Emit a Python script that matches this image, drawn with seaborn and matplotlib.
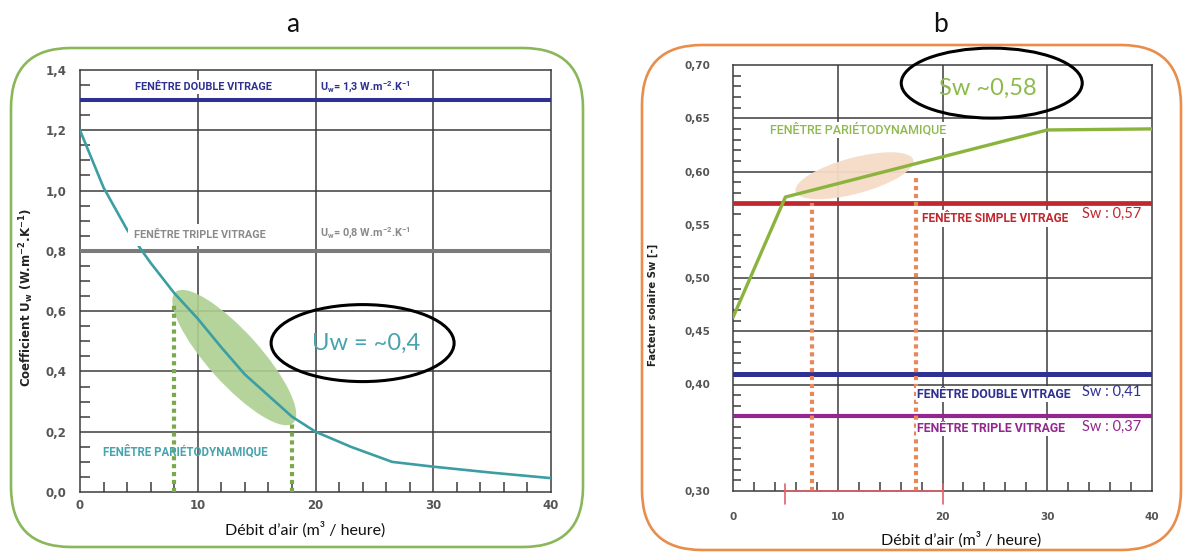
import numpy as np
import pandas as pd
import matplotlib
matplotlib.use("Agg")
import matplotlib.pyplot as plt
import seaborn as sns
from matplotlib.patches import Ellipse, FancyBboxPatch
from matplotlib.transforms import ScaledTranslation
from matplotlib.ticker import FixedLocator, MultipleLocator, FuncFormatter

# ---------- a : coefficient Uw ----------
debit_a = [0, 2, 4, 6, 8, 10, 12, 14, 16, 18, 20, 23, 26.5, 30, 35, 40]
uw_parieto = [1.20, 1.01, 0.87, 0.76, 0.66, 0.575, 0.48, 0.39, 0.32, 0.25,
              0.20, 0.15, 0.10, 0.084, 0.064, 0.046]
uw_double = 1.3
uw_triple = 0.8
plage_a = [8, 18]
plage_a_sommet = [0.63, 0.235]
uw_estime = "Uw = ~0,4"

# ---------- b : facteur solaire Sw ----------
debit_b = [0, 5, 30, 40]
sw_parieto = [0.463, 0.576, 0.639, 0.640]
sw_simple = 0.57
sw_double = 0.41
sw_triple = 0.37
plage_b = [7.5, 17.5]
plage_b_sommet = [0.57, 0.595]
segment_b = [5, 20]
sw_estime = "Sw ~0,58"

xticks = [0, 10, 20, 30, 40]
yticks_a = [0.0, 0.2, 0.4, 0.6, 0.8, 1.0, 1.2, 1.4]
yticks_b = [0.30, 0.40, 0.45, 0.50, 0.55, 0.60, 0.65, 0.70]
grid_a_y = [0.2, 0.4, 0.6, 0.8, 1.0, 1.2]
grid_b_y = [0.40, 0.45, 0.50, 0.60, 0.65]
grid_x = [10, 20, 30]

# colours
C_GRID = "#3c3c3c"
C_TEAL = "#3c9ea2"
C_TEAL_TXT = "#47a3ad"
C_BLUE = "#2e3192"
C_GREY = "#7b7b7b"
C_GREEN_BOX = "#8ab75a"
C_ORANGE_BOX = "#e98d4b"
C_GREEN = "#8ab43e"
C_RED = "#c1272d"
C_PURPLE = "#93278f"
C_DOT_GREEN = "#79a948"
C_DOT_ORANGE = "#e8875a"
C_PINK = "#e2606c"

sns.set_style("white")
plt.rcParams["font.family"] = ["DejaVu Sans"]

W, H, DPI = 1184, 553, 100
fig = plt.figure(figsize=(W / DPI, H / DPI), dpi=DPI)
fig.patch.set_facecolor("white")


def frac(x0, y0, x1, y1):
    return [x0 / W, 1 - y1 / H, (x1 - x0) / W, (y1 - y0) / H]


ax_a = fig.add_axes(frac(80, 70, 551, 492))
ax_b = fig.add_axes(frac(733, 65, 1152, 491))

# rounded panel frames
fig.add_artist(FancyBboxPatch((0.11, 0.06), 5.72, 4.99,
                              boxstyle="round,pad=0,rounding_size=0.6",
                              transform=fig.dpi_scale_trans, fill=False,
                              ec=C_GREEN_BOX, lw=1.9))
fig.add_artist(FancyBboxPatch((6.42, 0.03), 5.39, 5.05,
                              boxstyle="round,pad=0,rounding_size=0.6",
                              transform=fig.dpi_scale_trans, fill=False,
                              ec=C_ORANGE_BOX, lw=1.9))

fig.text(293 / W, 1 - 24 / H, "a", ha="center", va="center",
         fontsize=19, family="Lato", color="#111111")
fig.text(940 / W, 1 - 24 / H, "b", ha="center", va="center",
         fontsize=19, family="Lato", color="#111111")


def style_axes(ax, xlim, ylim, yticks, ydec, ylab_size, xpad, ypad,
               ymaj_len, ymin_len, xmin_len, yminor):
    ax.set_xlim(*xlim)
    ax.set_ylim(*ylim)
    ax.set_facecolor("white")
    for sp in ax.spines.values():
        sp.set_visible(True)
        sp.set_color(C_GRID)
        sp.set_linewidth(1.1)
        sp.set_zorder(1)
    ax.xaxis.set_major_locator(FixedLocator(xticks))
    ax.xaxis.set_minor_locator(MultipleLocator(2))
    ax.yaxis.set_major_locator(FixedLocator(yticks))
    ax.yaxis.set_minor_locator(MultipleLocator(yminor))
    ax.xaxis.set_major_formatter(FuncFormatter(lambda v, p: f"{v:.0f}"))
    ax.yaxis.set_major_formatter(
        FuncFormatter(lambda v, p: f"{v:.{ydec}f}".replace(".", ",")))
    ax.tick_params(axis="x", which="major", length=0, pad=xpad,
                   labelsize=ylab_size, labelcolor="#555555")
    ax.tick_params(axis="x", which="minor", direction="in", length=xmin_len,
                   width=1.1, color=C_GRID, bottom=True, top=False)
    ax.tick_params(axis="y", which="major", direction="out", length=ymaj_len,
                   width=1.1, color=C_GRID, pad=ypad, labelsize=ylab_size,
                   labelcolor="#555555")
    ax.tick_params(axis="y", which="minor", direction="in", length=ymin_len,
                   width=1.1, color=C_GRID, left=True, right=False)
    for lab in ax.get_xticklabels() + ax.get_yticklabels():
        lab.set_fontweight("bold")


label_box = dict(facecolor="white", edgecolor="none", pad=1.2)

# ================= panel a =================
style_axes(ax_a, (0, 40), (0, 1.4), yticks_a, 1, 8.5, 5.2, 1.0,
           8.6, 7.0, 7.0, 0.05)
for y in grid_a_y:
    ax_a.axhline(y, color=C_GRID, lw=1.1, zorder=1)
for x in grid_x:
    ax_a.axvline(x, color=C_GRID, lw=1.1, zorder=1)

ax_a.add_patch(Ellipse((0, 0), 1.76, 0.52, angle=-48,
                       transform=fig.dpi_scale_trans
                       + ScaledTranslation(13.1, 0.446, ax_a.transData),
                       fc="#acd091", ec="none", alpha=0.9, zorder=2))

ax_a.axhline(uw_double, color=C_BLUE, lw=2.9, zorder=3)
ax_a.axhline(uw_triple, color=C_GREY, lw=2.9, zorder=3)
ax_a.vlines(plage_a, 0, plage_a_sommet, colors=C_DOT_GREEN, lw=3,
            linestyles=(0, (1, 0.9)), zorder=3)

sns.lineplot(x=debit_a, y=uw_parieto, ax=ax_a, color=C_TEAL, lw=1.9,
             zorder=4)

ax_a.text(4.67, 1.344, "FENÊTRE DOUBLE VITRAGE", family="Roboto",
          fontweight="bold", fontsize=7.8, color=C_BLUE, va="center",
          bbox=label_box, zorder=5)
ax_a.text(20.4, 1.344,
          r"U$_\mathregular{w}$= 1,3 W.m$^\mathregular{-2}$.K$^\mathregular{-1}$",
          family="Roboto", fontweight="bold", fontsize=7.8, color=C_BLUE,
          va="center", bbox=label_box, zorder=5)
ax_a.text(4.6, 0.853, "FENÊTRE TRIPLE VITRAGE", family="Roboto",
          fontweight="bold", fontsize=7.8, color="#8a8a8a", va="center",
          bbox=dict(facecolor="white", edgecolor="none", pad=4.5), zorder=5)
ax_a.text(20.4, 0.859,
          r"U$_\mathregular{w}$= 0,8 W.m$^\mathregular{-2}$.K$^\mathregular{-1}$",
          family="Roboto", fontweight="bold", fontsize=7.8, color="#8a8a8a",
          va="center", bbox=label_box, zorder=5)
ax_a.text(1.95, 0.133, "FENÊTRE PARIÉTODYNAMIQUE", family="Roboto",
          fontweight="bold", fontsize=8.3, color=C_TEAL_TXT, va="center",
          zorder=5)

ax_a.add_patch(Ellipse((0, 0), 1.83, 0.77,
                       transform=fig.dpi_scale_trans
                       + ScaledTranslation(24.0, 0.494, ax_a.transData),
                       fc="none", ec="black", lw=2.2, zorder=5))
ax_a.text(24.3, 0.494, uw_estime, family="Lato", fontsize=17,
          color=C_TEAL_TXT, ha="center", va="center", zorder=6)

ax_a.set_xlabel("Débit d’air (m³ / heure)", family="Lato", fontsize=11.5,
                color="#111111", va="center")
ax_a.xaxis.set_label_coords(0.477, -0.088)
ax_a.set_ylabel(
    r"Coefficient U$_\mathregular{w}$ (W.m$^\mathregular{-2}$.K$^\mathregular{-1}$)",
    fontweight="bold", fontsize=8.5, color="#222222", va="center")
ax_a.yaxis.set_label_coords(-53 / 471, 0.461)

# ================= panel b =================
style_axes(ax_b, (0, 40), (0.30, 0.70), yticks_b, 2, 7.5, 15, 9,
           7.2, 5.8, 6.5, 0.01)
for y in grid_b_y:
    ax_b.axhline(y, color=C_GRID, lw=1.1, zorder=1)
for x in grid_x:
    ax_b.axvline(x, color=C_GRID, lw=1.1, zorder=1)

ax_b.add_patch(Ellipse((0, 0), 1.22, 0.36, angle=15,
                       transform=fig.dpi_scale_trans
                       + ScaledTranslation(11.6, 0.596, ax_b.transData),
                       fc="#f6dcc7", ec="none", alpha=0.95, zorder=2))

ax_b.axhline(sw_simple, color=C_RED, lw=3.4, zorder=3)
ax_b.axhline(sw_double, color=C_BLUE, lw=3.6, zorder=3)
ax_b.axhline(sw_triple, color=C_PURPLE, lw=3.0, zorder=3)
ax_b.vlines(plage_b, 0.30, plage_b_sommet, colors=C_DOT_ORANGE, lw=3,
            linestyles=(0, (1, 0.9)), zorder=3)

# highlighted flow range on the bottom axis
ax_b.plot(segment_b, [0.30, 0.30], color=C_PINK, lw=1.2, zorder=6,
          clip_on=False)
for x in segment_b:
    ax_b.axvline(x, ymin=-0.031, ymax=0.016, color=C_PINK, lw=1.2,
                 zorder=6, clip_on=False)

sns.lineplot(x=debit_b, y=sw_parieto, ax=ax_b, color=C_GREEN, lw=2.4,
             zorder=4)

ax_b.text(3.53, 0.639, "FENÊTRE PARIÉTODYNAMIQUE", family="Roboto",
          fontweight="medium", fontsize=9.0, color="#8dba4c", va="center",
          bbox=label_box, zorder=5)
ax_b.text(18.0, 0.556, "FENÊTRE SIMPLE VITRAGE", family="Roboto",
          fontweight="bold", fontsize=8.6, color=C_RED, va="center",
          bbox=label_box, zorder=5)
ax_b.text(33.3, 0.560, "Sw : 0,57", family="Lato", fontsize=10.5,
          color=C_RED, va="center", zorder=5)
ax_b.text(17.6, 0.391, "FENÊTRE DOUBLE VITRAGE", family="Roboto",
          fontweight="bold", fontsize=8.8, color=C_BLUE, va="center",
          bbox=label_box, zorder=5)
ax_b.text(33.3, 0.393, "Sw : 0,41", family="Lato", fontsize=10.5,
          color=C_BLUE, va="center", zorder=5)
ax_b.text(17.6, 0.359, "FENÊTRE TRIPLE VITRAGE", family="Roboto",
          fontweight="bold", fontsize=8.8, color=C_PURPLE, va="center",
          bbox=label_box, zorder=5)
ax_b.text(33.3, 0.360, "Sw : 0,37", family="Lato", fontsize=10.5,
          color=C_PURPLE, va="center", zorder=5)

ax_b.add_patch(Ellipse((0, 0), 1.81, 0.70,
                       transform=fig.dpi_scale_trans
                       + ScaledTranslation(24.7, 0.683, ax_b.transData),
                       fc="none", ec="black", lw=2.2, zorder=7,
                       clip_on=False))
ax_b.text(24.3, 0.678, sw_estime, family="Lato", fontsize=17,
          color="#8dba4c", ha="center", va="center", zorder=8)

ax_b.set_xlabel("Débit d’air (m³ / heure)", family="Lato", fontsize=11.5,
                color="#111111", va="center")
ax_b.xaxis.set_label_coords(0.545, -0.115)
ax_b.set_ylabel("Facteur solaire Sw [-]", fontweight="bold", fontsize=7.3,
                color="#222222", va="center")
ax_b.yaxis.set_label_coords(-80 / 419, 0.437)

fig.savefig("out.png", dpi=DPI, facecolor="white")
